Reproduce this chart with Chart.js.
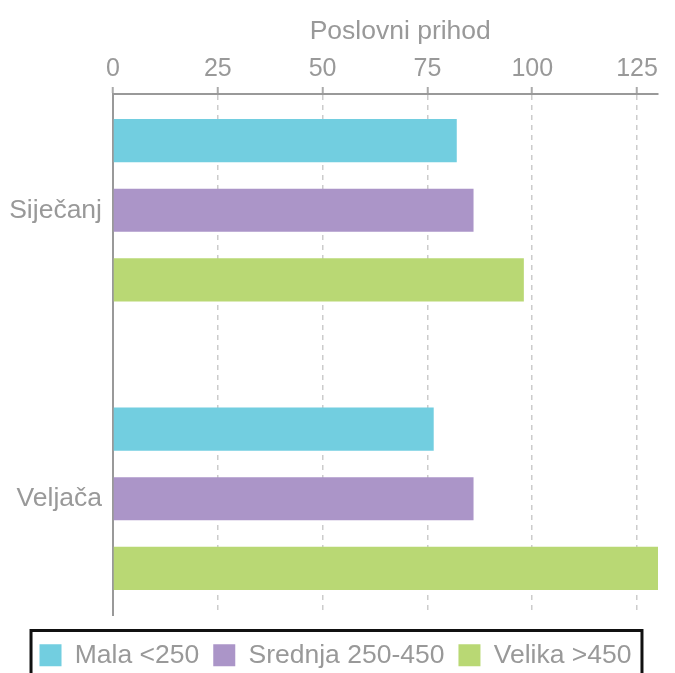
<!DOCTYPE html>
<html>
<head>
<meta charset="utf-8">
<script src="https://cdn.jsdelivr.net/npm/chart.js@4.4.1/dist/chart.umd.min.js"></script>
<style>
    html, body { margin: 0; padding: 0; background: #fff; }
    canvas { display: block; }
</style>
</head>
<body>
<canvas id="chartCanvas" width="675" height="673"></canvas>
<script>
// =========================
// Data
// =========================
const categories = ["Siječanj", "Veljača"];
const seriesNames = ["Mala <250", "Srednja 250-450", "Velika >450"];
const malaValues = [82, 76.5];
const srednjaValues = [86, 86];
const velikaValues = [98, 130];
const xTickStep = 25;
const xMax = 130;
const axisTitle = "Poslovni prihod";

const colors = ["#72CEE0", "#AB95C8", "#B9D874"];
const textGray = "#999999";
const family = "'Liberation Sans', Arial, sans-serif";
const labelFont = { family, size: 26.5 };
const tickFont = { family, size: 25 };

// category index -> point on the (linear) index axis
function toPoints(values) {
    return values.map((v, i) => ({ x: v, y: i }));
}

// =========================
// Legend frame plugin
// =========================
const legendFrame = {
    id: "legendFrame",
    afterLayout(chart) {
        // centre the legend on the canvas rather than the padded area
        chart.legend.left += 6.5;
        chart.legend.right += 6.5;
    },
    afterDraw(chart) {
        const boxes = chart.legend.legendHitBoxes;
        if (!boxes || !boxes.length) return;
        const left = Math.min(...boxes.map(b => b.left)) - 8.5;
        const right = Math.max(...boxes.map(b => b.left + b.width)) + 10.5;
        const top = boxes[0].top - 11.5;
        const ctx = chart.ctx;
        ctx.save();
        ctx.strokeStyle = "#111";
        ctx.lineWidth = 3;
        ctx.strokeRect(left, top, right - left, 80);
        ctx.restore();
    }
};

// =========================
// Chart
// =========================
const ctx = document.getElementById("chartCanvas").getContext("2d");

new Chart(ctx, {
    type: "bar",
    data: {
        datasets: [
            { label: seriesNames[0], data: toPoints(malaValues), backgroundColor: colors[0] },
            { label: seriesNames[1], data: toPoints(srednjaValues), backgroundColor: colors[1] },
            { label: seriesNames[2], data: toPoints(velikaValues), backgroundColor: colors[2] }
        ]
    },
    options: {
        responsive: false,
        animation: false,
        indexAxis: "y",
        categoryPercentage: 0.724,
        barPercentage: 0.62,
        layout: { padding: { left: 0, right: 17, top: 0, bottom: -5.5 } },
        scales: {
            x: {
                position: "top",
                min: 0,
                max: xMax,
                afterFit: s => { s.height = 94; },
                ticks: {
                    stepSize: xTickStep,
                    includeBounds: false,
                    color: textGray,
                    font: tickFont,
                    padding: 3
                },
                title: {
                    display: true,
                    // leading spaces nudge the centred title to the right, like the original
                    text: "    " + axisTitle,
                    color: textGray,
                    font: labelFont,
                    padding: { top: 16, bottom: 0 }
                },
                grid: {
                    color: "#cccccc",
                    lineWidth: 1.5,
                    tickLength: 7,
                    tickColor: "#aaaaaa",
                    tickWidth: 2
                },
                border: { color: "#999999", width: 2, dash: [5, 5] }
            },
            y: {
                type: "linear",
                reverse: true,
                offset: false,
                min: -0.403,
                max: 1.403,
                afterFit: s => { s.width = 113; },
                afterBuildTicks: s => { s.ticks = categories.map((c, i) => ({ value: i })); },
                ticks: {
                    color: textGray,
                    font: labelFont,
                    padding: 11,
                    callback: v => categories[v]
                },
                grid: { display: false, drawTicks: false },
                border: { color: "#999999", width: 2 }
            }
        },
        plugins: {
            legend: {
                position: "bottom",
                title: { display: true, text: "", font: { size: 13, lineHeight: 1 }, padding: 0 },
                labels: {
                    boxWidth: 22,
                    boxHeight: 22,
                    color: textGray,
                    font: labelFont,
                    padding: 14
                }
            },
            tooltip: { enabled: false }
        }
    },
    plugins: [legendFrame]
});
</script>
</body>
</html>
